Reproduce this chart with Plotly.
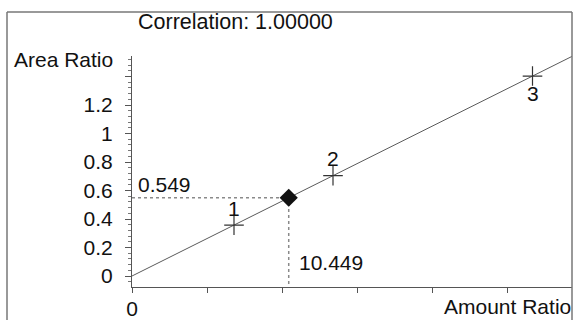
import plotly.graph_objects as go

# ---- data ----
amount_ratio = [6.8, 13.4, 26.7]
area_ratio = [0.357, 0.704, 1.403]
point_labels = ["1", "2", "3"]
unknown_x = 10.449
unknown_y = 0.549
slope = unknown_y / unknown_x
intercept = 0.0
correlation_text = "Correlation: 1.00000"
y_tick_vals = [0, 0.2, 0.4, 0.6, 0.8, 1.0, 1.2, 1.4]
y_tick_text = ["0", "0.2", "0.4", "0.6", "0.8", "1", "1.2", ""]
x_tick_vals = [0, 5, 10, 15, 20, 25]
x_tick_text = ["0", "", "", "", "", ""]

W, H = 574, 320
L, R, T, B = 132, 2, 56, 33
x_max = (W - L - R) / 15.0
y_min = -11 / 142.5
y_max = (276 - T) / 142.5

def pxx(px):
    return (px - L) / (W - L - R)

def pxy(py):
    return (H - B - py) / (H - T - B)

FONT = "Liberation Sans, Arial, sans-serif"
TXT = "#111111"
FS = 21

fig = go.Figure()

# regression line
fig.add_trace(go.Scatter(
    x=[0, x_max], y=[intercept, intercept + slope * x_max],
    mode="lines", line=dict(color="#5a5a5a", width=1), hoverinfo="skip"))

# dashed guides to the unknown
fig.add_trace(go.Scatter(
    x=[0, unknown_x, unknown_x], y=[unknown_y, unknown_y, y_min],
    mode="lines", line=dict(color="#8a8a8a", width=1.5, dash="dot"),
    hoverinfo="skip"))

# calibration points
fig.add_trace(go.Scatter(
    x=amount_ratio, y=area_ratio, mode="markers",
    marker=dict(symbol="cross-thin", size=14,
                line=dict(color="#333333", width=1.2)),
    cliponaxis=False))

# unknown point
fig.add_trace(go.Scatter(
    x=[unknown_x], y=[unknown_y], mode="markers",
    marker=dict(symbol="diamond", size=14, color="#111111"),
    cliponaxis=False))

annotations = []
shifts = [17, 17, -17]
for xv, yv, lab, s in zip(amount_ratio, area_ratio, point_labels, shifts):
    annotations.append(dict(x=xv, y=yv, xref="x", yref="y", text=lab,
                            showarrow=False, yshift=s,
                            font=dict(family=FONT, size=FS, color=TXT)))

annotations += [
    dict(x=pxx(136), y=pxy(22), xref="paper", yref="paper", text=correlation_text,
         showarrow=False, xanchor="left", yanchor="middle",
         font=dict(family=FONT, size=21.5, color=TXT)),
    dict(x=pxx(115), y=pxy(60), xref="paper", yref="paper", text="Area Ratio",
         showarrow=False, xanchor="right", yanchor="middle",
         font=dict(family=FONT, size=FS, color=TXT)),
    dict(x=pxx(442), y=pxy(306), xref="paper", yref="paper", text="Amount Ratio",
         showarrow=False, xanchor="left", yanchor="middle",
         font=dict(family=FONT, size=FS, color=TXT)),
    dict(x=pxx(136), y=pxy(184), xref="paper", yref="paper", text=f"{unknown_y:.3f}",
         showarrow=False, xanchor="left", yanchor="middle",
         font=dict(family=FONT, size=FS, color=TXT)),
    dict(x=pxx(297), y=pxy(262), xref="paper", yref="paper", text=f"{unknown_x:.3f}",
         showarrow=False, xanchor="left", yanchor="middle",
         font=dict(family=FONT, size=FS, color=TXT)),
]

shapes = [
    dict(type="line", xref="paper", yref="paper",
         x0=pxx(7), x1=pxx(7), y0=pxy(12), y1=pxy(322),
         line=dict(color="#777777", width=1.5)),
    dict(type="line", xref="paper", yref="paper",
         x0=pxx(7), x1=pxx(572), y0=pxy(12), y1=pxy(12),
         line=dict(color="#777777", width=1.5)),
    dict(type="line", xref="paper", yref="paper",
         x0=pxx(572), x1=pxx(572), y0=pxy(12), y1=pxy(322),
         line=dict(color="#777777", width=1.5)),
]

fig.update_layout(
    width=W, height=H,
    margin=dict(l=L, r=R, t=T, b=B, autoexpand=False),
    paper_bgcolor="white", plot_bgcolor="white",
    showlegend=False,
    annotations=annotations, shapes=shapes,
    xaxis=dict(range=[0, x_max], showgrid=False, zeroline=False,
               automargin=False,
               showline=True, linecolor="#555555", linewidth=1,
               ticks="outside", ticklen=5, tickcolor="#555555",
               tickmode="array", tickvals=x_tick_vals, ticktext=x_tick_text,
               ticklabelstandoff=-2,
               tickfont=dict(family=FONT, size=FS, color=TXT)),
    yaxis=dict(range=[y_min, y_max], showgrid=False, zeroline=False,
               automargin=False,
               showline=True, linecolor="#555555", linewidth=1,
               ticks="outside", ticklen=6, tickcolor="#555555",
               tickmode="array", tickvals=y_tick_vals, ticktext=y_tick_text,
               ticklabelstandoff=8,
               minor=dict(ticks="outside", ticklen=3, tickcolor="#777777",
                          tickmode="linear", tick0=0, dtick=0.04),
               tickfont=dict(family=FONT, size=FS, color=TXT)),
)

fig.write_html(
    "out.html",
    config={"displayModeBar": False},
    post_script="document.body.style.margin='0';document.body.style.overflow='hidden';",
)
